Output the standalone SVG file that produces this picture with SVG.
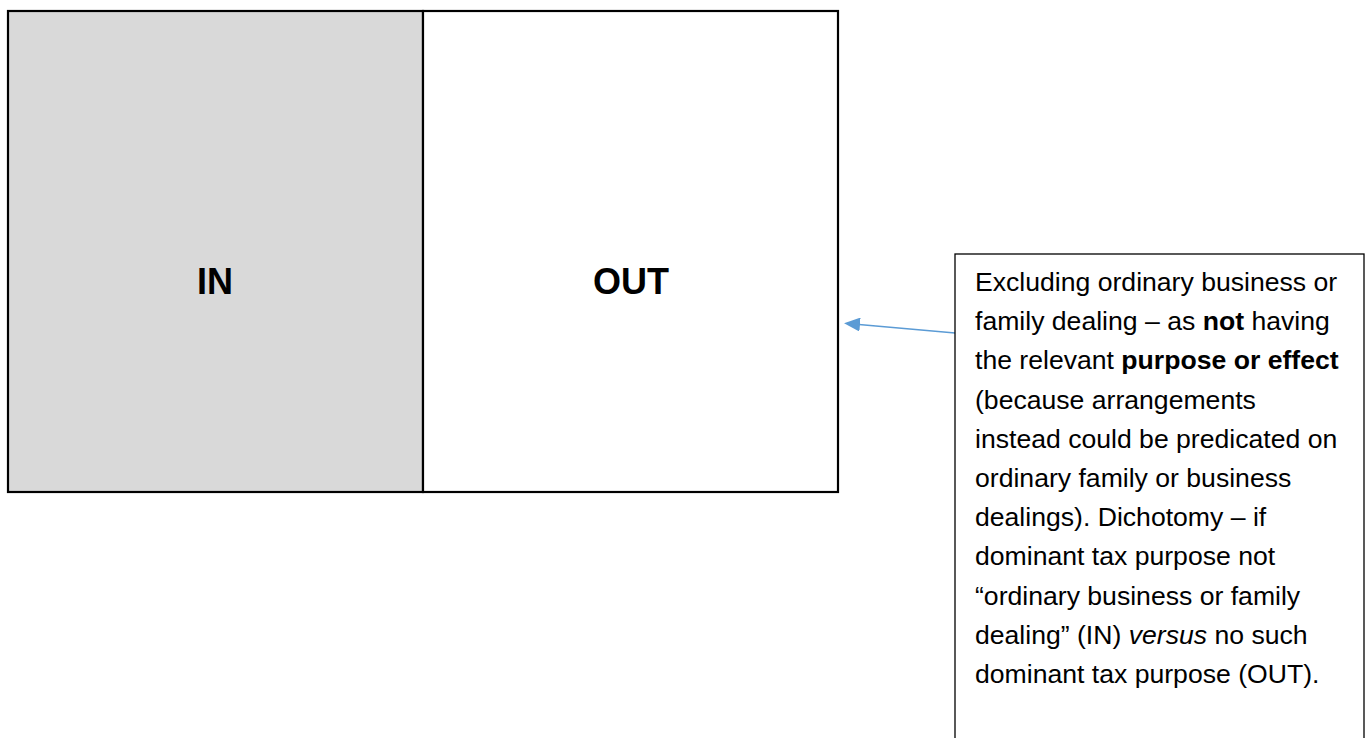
<svg xmlns="http://www.w3.org/2000/svg" width="1370" height="738" viewBox="0 0 1370 738">
  <style>
    .cell { stroke: #000; stroke-width: 2.2; }
    .big { font-family: "Liberation Sans", Arial, sans-serif; font-weight: bold; font-size: 36px; text-anchor: middle; fill: #000; }
    .note { font-family: "Liberation Sans", Arial, sans-serif; font-size: 26.6px; fill: #000; }
    .link { stroke: #5b9bd5; stroke-width: 1.3; fill: none; }
  </style>
  <defs>
    <marker id="arrow" viewBox="0 0 16 14" refX="1" refY="7" markerWidth="16" markerHeight="14" markerUnits="userSpaceOnUse" orient="auto-start-reverse">
      <path d="M0,0 L16,7 L0,14 Z" fill="#5b9bd5"/>
    </marker>
  </defs>
  <rect width="1370" height="738" fill="#fff"/>

  <g id="in-cell">
    <rect class="cell" x="8" y="11" width="415" height="481" fill="#d9d9d9"/>
    <text class="big" x="215" y="294">IN</text>
  </g>

  <g id="out-cell">
    <rect class="cell" x="423" y="11" width="415" height="481" fill="#fff"/>
    <text class="big" x="631" y="294">OUT</text>
  </g>

  <g id="connectors">
    <line class="link" x1="955" y1="333" x2="859" y2="324.5" marker-end="url(#arrow)"/>
  </g>

  <g id="note">
    <rect x="955" y="254" width="409" height="500" fill="#fff" stroke="#000" stroke-width="1.3"/>
    <text class="note">
      <tspan x="975" y="291">Excluding ordinary business or</tspan>
      <tspan x="975" y="330">family dealing – as <tspan font-weight="bold">not</tspan> having</tspan>
      <tspan x="975" y="369">the relevant <tspan font-weight="bold">purpose or effect</tspan></tspan>
      <tspan x="975" y="409">(because arrangements</tspan>
      <tspan x="975" y="448">instead could be predicated on</tspan>
      <tspan x="975" y="487">ordinary family or business</tspan>
      <tspan x="975" y="526">dealings). Dichotomy – if</tspan>
      <tspan x="975" y="565">dominant tax purpose not</tspan>
      <tspan x="975" y="605">“ordinary business or family</tspan>
      <tspan x="975" y="644">dealing” (IN) <tspan font-style="italic">versus</tspan> no such</tspan>
      <tspan x="975" y="683">dominant tax purpose (OUT).</tspan>
    </text>
  </g>
</svg>
